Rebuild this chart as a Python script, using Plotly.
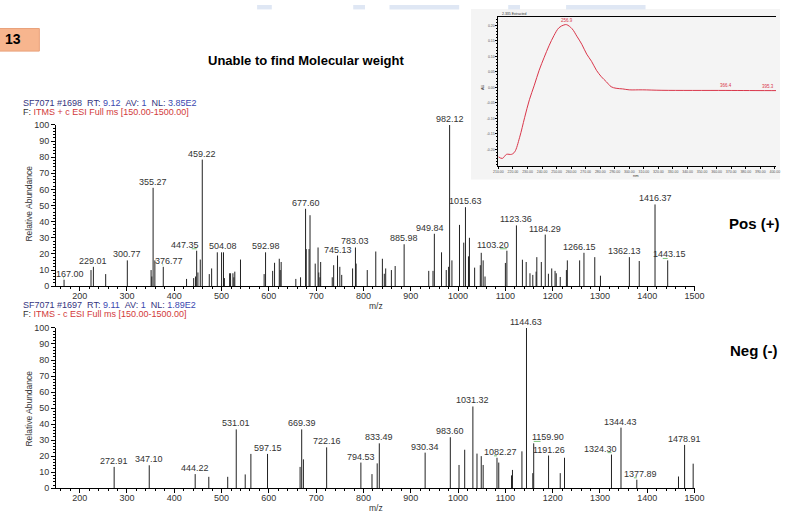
import numpy as np
import plotly.graph_objects as go

W, H = 786, 519
FONT = "Liberation Sans, Arial, sans-serif"

# ---- ESI positive-ion full scan (m/z, relative abundance %) ----
pos_mz = [167.00, 224, 229.01, 255, 300.77, 351, 352.5, 355.27, 359, 376.77,
          426, 441, 445, 447.35, 450, 455, 459.22, 474, 479, 491,
          500, 504.08, 506, 517, 519, 524, 526, 528, 540, 590,
          592.98, 608, 612, 622, 624, 626, 657, 667, 677.60, 679,
          685, 687, 698, 704, 705.5, 708, 709.5, 734, 737, 745.13,
          750, 754, 777, 783.03, 784.5, 808, 826, 840, 844, 847,
          859, 867, 885.98, 938, 947, 949.84, 965, 975, 980, 982.12,
          987, 1003, 1012, 1015.63, 1022, 1024, 1035, 1047, 1049, 1053,
          1057, 1100, 1103.20, 1123.36, 1136, 1144, 1152, 1158, 1165, 1166.5,
          1176, 1184.29, 1191, 1198, 1205, 1207.5, 1216, 1229, 1231, 1257,
          1266.15, 1289, 1301, 1362.13, 1383, 1416.37, 1443.15]
pos_int = [4, 10, 12, 7.5, 16, 10, 6, 61, 16, 12,
           4.5, 5, 6, 22, 8.5, 16.5, 78.5, 7.5, 11, 21,
           21, 21, 5, 8, 8, 8, 5.5, 9, 16.5, 7.5,
           21, 9.5, 14.5, 17, 10, 15, 4.5, 5.5, 48, 23,
           23, 44, 14, 24, 8.5, 5.5, 15, 5.5, 13, 19,
           12, 7, 11, 24, 14, 10, 21.5, 17, 7.7, 11,
           10, 12.5, 26, 9.5, 9.5, 32.5, 21, 10, 12, 100,
           16, 38, 27, 49, 18.5, 30, 11.5, 13, 20.7, 16,
           6, 14.4, 22, 37.7, 16.4, 15, 8, 7, 9, 18,
           15, 32, 7.7, 11, 9.5, 8, 5.7, 10, 16, 16,
           20.7, 18, 6.5, 18, 15.6, 50.7, 16]
pos_labels = [167.00, 229.01, 300.77, 355.27, 376.77, 447.35, 459.22, 504.08,
              592.98, 677.60, 745.13, 783.03, 885.98, 949.84, 982.12, 1015.63,
              1103.20, 1123.36, 1184.29, 1266.15, 1362.13, 1416.37, 1443.15]

# ---- ESI negative-ion full scan ----
neg_mz = [272.91, 347.10, 444.22, 473, 513, 531.01, 550, 562, 597.15, 666,
          669.39, 673, 722.16, 794.53, 818, 829, 833.49, 930.34, 983.60, 1002,
          1014, 1031.32, 1040, 1049, 1053, 1082.27, 1086, 1113, 1115, 1135,
          1144.63, 1158, 1159.90, 1191.26, 1216, 1225, 1324.30, 1344.43, 1377.89, 1466,
          1478.91, 1497]
neg_int = [13.3, 14.3, 8.8, 7.1, 7.1, 36.7, 8.6, 21.4, 21.4, 13.3,
           36.7, 18, 25.5, 16, 8.8, 15.5, 28, 22.2, 31.8, 14.5,
           24, 51, 21.6, 20, 14.5, 19, 16, 8, 11.4, 23,
           100, 9.4, 28, 20.4, 9.4, 19, 21, 37.8, 5.3, 7.3,
           27, 15.3]
neg_labels = [272.91, 347.10, 444.22, 531.01, 597.15, 669.39, 722.16, 794.53,
              833.49, 930.34, 983.60, 1031.32, 1082.27, 1144.63, 1159.90,
              1191.26, 1324.30, 1344.43, 1377.89, 1478.91]

# ---- UV absorbance trace (nm, AU) ----
uv_nm = [210, 212.7, 215.6, 219, 221.2, 224.6, 228, 231.3, 234.7, 238,
         241.5, 244.8, 248.2, 251.6, 255, 256.9, 260.6, 263.9, 267.3, 270.7,
         274, 277.4, 280.8, 284.2, 287.5, 290.9, 295.4, 299.9, 308.9, 322.4,
         366.4, 395.3, 400.8]
uv_au = [-0.224, -0.229, -0.216, -0.216, -0.208, -0.161, -0.098, -0.040, 0.007, 0.055,
         0.097, 0.134, 0.167, 0.192, 0.201, 0.202, 0.189, 0.165, 0.139, 0.107,
         0.084, 0.055, 0.034, 0.018, 0.002, -0.003, -0.005, -0.008, -0.008, -0.0095,
         -0.010, -0.0105, -0.0105]
uv_labels = [256.9, 366.4, 395.3]

# horizontal pixel nudges for labels that sit beside their peak
label_nudge = {167.00: 6, 376.77: 6, 447.35: -12, 949.84: -4, 1103.20: -14,
               1266.15: -4, 1362.13: -5, 1443.15: 2,
               1082.27: 4, 1159.90: 14, 1324.30: -11, 1377.89: 4}
# labels whose offset is marked by a short green leader under the text
leader_labels = [167.00, 376.77, 447.35, 1103.20, 1443.15,
                 1082.27, 1159.90, 1324.30, 1377.89]


def px(x):
    return x / W


def py(y):
    return 1 - y / H


def sticks(mz, inten):
    xs, ys = [], []
    for m, v in zip(mz, inten):
        xs += [m, m, None]
        ys += [0, v, None]
    return xs, ys


fig = go.Figure()

for mz, inten, xa, ya in [(pos_mz, pos_int, "x", "y"), (neg_mz, neg_int, "x2", "y2")]:
    xs, ys = sticks(mz, inten)
    fig.add_trace(go.Scatter(x=xs, y=ys, mode="lines", xaxis=xa, yaxis=ya,
                             line=dict(color="#222222", width=1), hoverinfo="skip",
                             showlegend=False))

fig.add_trace(go.Scatter(x=uv_nm, y=uv_au, mode="lines", xaxis="x3", yaxis="y3",
                         line=dict(color="#d9364a", width=1, shape="spline"),
                         hoverinfo="skip", showlegend=False))

ann = []
shapes = []
PX_PER_MZ = (703 - 52) / 1350.0
for mz, inten, labels, xr, yr in [(pos_mz, pos_int, pos_labels, "x", "y"),
                                   (neg_mz, neg_int, neg_labels, "x2", "y2")]:
    lookup = dict(zip(mz, inten))
    for lab in labels:
        nudge = label_nudge.get(lab, 0)
        ann.append(dict(x=lab, y=lookup[lab], xref=xr, yref=yr, text=f"{lab:.2f}",
                        showarrow=False, yanchor="bottom", xanchor="center",
                        xshift=nudge, yshift=-1,
                        font=dict(size=9, color="#333333", family=FONT)))
        if lab in leader_labels:
            # short green tick joining the shifted label to its peak
            cx = lab + nudge / PX_PER_MZ
            end = cx - 7 / PX_PER_MZ if nudge > 0 else cx + 7 / PX_PER_MZ
            shapes.append(dict(type="line", xref=xr, yref=yr, x0=lab, x1=end,
                               y0=lookup[lab] + 1.2, y1=lookup[lab] + 1.2,
                               line=dict(color="#7cc47c", width=1)))

for lab in uv_labels:
    ann.append(dict(x=lab, y=float(np.interp(lab, uv_nm, uv_au)), xref="x3", yref="y3",
                    text=f"{lab:.1f}", showarrow=False, yanchor="bottom",
                    font=dict(size=4.5, color="#d9364a", family=FONT)))


def text(x, y, s, size, color="#000000", bold=False, anchor="left", angle=0):
    ann.append(dict(x=px(x), y=py(y), xref="paper", yref="paper",
                    text=f"<b>{s}</b>" if bold else s, showarrow=False,
                    xanchor=anchor, yanchor="middle", textangle=angle,
                    font=dict(size=size, color=color, family=FONT)))


NAVY, BLUE, RED = "#34347e", "#3a48b0", "#d23a3a"
sp = "&nbsp;&nbsp;"


def header(scan, rt, nl, sign, y):
    line1 = (f"<span style='color:{NAVY}'>SF7071 #{scan}{sp}RT: </span>"
             f"<span style='color:{BLUE}'>{rt}</span>"
             f"<span style='color:{NAVY}'>{sp}AV: </span><span style='color:{BLUE}'>1</span>"
             f"<span style='color:{NAVY}'>{sp}NL: </span><span style='color:{BLUE}'>{nl}</span>")
    line2 = (f"<span style='color:#333333'>F: </span>"
             f"<span style='color:{RED}'>ITMS {sign} c ESI Full ms [150.00-1500.00]</span>")
    text(16, y, line1, 9)
    text(16, y + 9, line2, 9)


header("1698", "9.12", "3.85E2", "+", 100)
header("1697", "9.11", "1.89E2", "-", 306)

text(307, 57, "Unable to find Molecular weight", 13, bold=True, anchor="center")
text(-2, 35, "13", 14, bold=True)
text(764, 223, "Pos (+)", 15, bold=True, anchor="center")
text(764, 352, "Neg (-)", 15, bold=True, anchor="center")
text(25, 203, "Relative Abundance", 8.5, color="#333333", anchor="center", angle=-90)
text(25, 412, "Relative Abundance", 8.5, color="#333333", anchor="center", angle=-90)
text(378, 307, "m/z", 8.5, color="#333333", anchor="center")
text(378, 513, "m/z", 8.5, color="#333333", anchor="center")
text(505, 9, "2.335 Extracted", 3.5, color="#333333")
text(487, 84, "AU", 4, color="#333333", anchor="center", angle=-90)
text(643, 174, "nm", 4, color="#333333", anchor="center")

shapes += [
    dict(type="rect", xref="paper", yref="paper", x0=px(475), x1=px(790), y0=py(178), y1=py(4),
         fillcolor="#f4f4f4", line=dict(width=0), layer="below"),
    dict(type="rect", xref="paper", yref="paper", x0=px(-8), x1=px(35), y0=py(47), y1=py(24),
         fillcolor="#f7b58e", line=dict(color="#e9a07a", width=1), layer="below"),
]
for x0, x1 in [(257, 272), (355, 367), (392, 463), (513, 525), (572, 653)]:
    shapes.append(dict(type="rect", xref="paper", yref="paper", x0=px(x0), x1=px(x1),
                       y0=py(4.5), y1=1, fillcolor="#dfe7f4", line=dict(width=0),
                       layer="below"))

xdom = [px(52), px(703)]
ms_x = dict(domain=xdom, range=[150, 1500], showline=True, linecolor="#000000", linewidth=1,
            ticks="outside", ticklen=4, tickcolor="#000000", dtick=100, tick0=0,
            ticklabelstandoff=-3,
            tickfont=dict(size=9, color="#333333", family=FONT), showgrid=False, zeroline=False,
            minor=dict(dtick=20, ticks="outside", ticklen=2, tickcolor="#000000"))
ms_y = dict(range=[0, 100], showline=True, linecolor="#000000", linewidth=1,
            ticks="outside", ticklen=4, tickcolor="#000000", dtick=10, tick0=0,
            tickfont=dict(size=9, color="#333333", family=FONT), showgrid=False, zeroline=False,
            minor=dict(dtick=2, ticks="outside", ticklen=2, tickcolor="#000000"))

uv_ticks = [210 + 10 * i for i in range(20)]
au_ticks = [-0.20, -0.15, -0.10, -0.05, 0.0, 0.05, 0.10, 0.15, 0.20]

fig.update_layout(
    width=W, height=H, margin=dict(l=0, r=0, t=0, b=0),
    paper_bgcolor="#ffffff", plot_bgcolor="rgba(0,0,0,0)",
    showlegend=False, annotations=ann, shapes=shapes,
    xaxis=dict(ms_x, anchor="y"),
    yaxis=dict(ms_y, anchor="x", domain=[py(286.7), py(122.3)]),
    xaxis2=dict(ms_x, anchor="y2"),
    yaxis2=dict(ms_y, anchor="x2", domain=[py(492.7), py(329.3)]),
    xaxis3=dict(domain=[px(503), 1.0], range=[210, 400.8], anchor="y3",
                showline=True, mirror=True, linecolor="#000000", linewidth=1,
                ticks="outside", ticklen=2, tickcolor="#000000",
                tickvals=uv_ticks, ticktext=[f"{t:.2f}" for t in uv_ticks],
                tickfont=dict(size=3.5, color="#555555", family=FONT),
                showgrid=False, zeroline=False),
    yaxis3=dict(domain=[py(164), py(12)], range=[-0.253, 0.2275], anchor="x3",
                showline=True, linecolor="#000000", linewidth=1,
                ticks="outside", ticklen=2, tickcolor="#000000",
                tickvals=au_ticks, ticktext=[f"{t:.2f}" for t in au_ticks],
                tickfont=dict(size=3.5, color="#555555", family=FONT),
                showgrid=False, zeroline=False,
                minor=dict(dtick=0.01, ticks="outside", ticklen=1, tickcolor="#000000")),
)

fig.write_html("out.html")
